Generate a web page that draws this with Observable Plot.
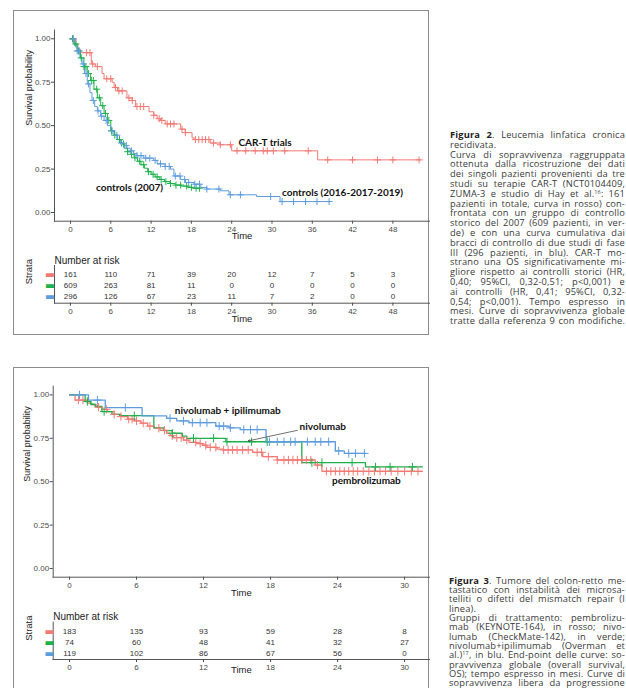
<!DOCTYPE html>
<html>
<head>
<meta charset="utf-8">
<script src="https://cdn.jsdelivr.net/npm/d3@7"></script>
<script src="https://cdn.jsdelivr.net/npm/@observablehq/plot@0.6"></script>
<style>
html, body { margin: 0; padding: 0; background: #fff; }
#page { position: relative; width: 626px; height: 688px; overflow: hidden; background: #fff; }
.frame { position: absolute; border: 1px solid #8c8c8c; box-sizing: border-box; }
.slot { position: absolute; }
.cap { position: absolute; width: 176px; font-family: "Open Sans", sans-serif; font-size: 9.3px; letter-spacing: 0.15px; color: #3a3a3a; }
.cap .ln { white-space: nowrap; }
.cap .ln span { display: inline-block; transform-origin: 0 50%; }
.cap sup { font-size: 5.5px; vertical-align: 3px; line-height: 0; }
.cap b { font-weight: 700; color: #222; }
</style>
</head>
<body>
<div id="page">
  <div class="frame" style="left:13px;top:10px;width:416px;height:325px;"></div>
  <div class="frame" style="left:13px;top:367px;width:416px;height:400px;"></div>
  <div class="slot" id="km1" style="left:14px;top:11px;"></div>
  <div class="slot" id="risk1" style="left:14px;top:248px;"></div>
  <div class="slot" id="km2" style="left:14px;top:368px;"></div>
  <div class="slot" id="risk2" style="left:14px;top:604px;"></div>
  <div class="cap" id="cap1" style="left:450px;top:130.1px;line-height:9.8px;"></div>
  <div class="cap" id="cap2" style="left:449px;top:575.9px;line-height:9.3px;"></div>
</div>
<script>
// ---------- shared ----------
const seriesColors = ["#F27A74", "#1DB14B", "#5D9CDE"];
const yTicks = [0, 0.25, 0.5, 0.75, 1];

// ---------- Figure 2 (CLL, CAR-T) ----------
const fig1Series = ["CAR-T trials", "controls (2007)", "controls (2016-2017-2019)"];
const fig1XTicks = [0, 6, 12, 18, 24, 30, 36, 42, 48];
const carTSteps = [[0,1],[0.8,0.97],[1.1,0.94],[1.5,0.92],[3.1,0.855],[3.7,0.84],[4.7,0.80],[5.0,0.77],[6.2,0.75],[6.5,0.72],[7.0,0.70],[8.4,0.66],[9.2,0.645],[9.7,0.61],[11.7,0.58],[12.4,0.56],[12.9,0.54],[13.4,0.53],[14.1,0.51],[16.4,0.48],[17.1,0.46],[18.1,0.43],[18.4,0.42],[20.8,0.40],[22.3,0.39],[24.0,0.355],[36.8,0.303],[52.2,0.303]];
const ctrl2007Steps = [[0,1],[0.5,0.97],[1.0,0.93],[1.5,0.89],[2.0,0.84],[2.5,0.80],[3.0,0.76],[3.5,0.71],[4.0,0.66],[4.5,0.615],[5.0,0.57],[5.5,0.53],[6.0,0.47],[6.5,0.445],[7.0,0.42],[7.5,0.395],[8.0,0.37],[8.5,0.35],[9.0,0.335],[9.5,0.315],[10.0,0.295],[10.5,0.275],[11.0,0.255],[11.5,0.235],[12.0,0.22],[12.6,0.205],[13.3,0.19],[14.0,0.178],[14.8,0.167],[15.6,0.158],[16.5,0.152],[17.4,0.145],[18.2,0.14],[19.3,0.138]];
const ctrl2016Steps = [[0,1],[0.6,0.96],[1.0,0.93],[1.4,0.89],[1.7,0.855],[2.1,0.80],[2.5,0.74],[2.9,0.69],[3.2,0.645],[3.6,0.61],[4.0,0.585],[4.5,0.555],[5.0,0.53],[5.5,0.50],[6.0,0.47],[6.5,0.445],[7.0,0.42],[7.5,0.40],[7.9,0.385],[8.4,0.37],[8.9,0.355],[9.4,0.34],[9.9,0.327],[10.9,0.313],[12.4,0.30],[12.9,0.28],[14.1,0.265],[14.9,0.25],[15.4,0.21],[16.4,0.19],[17.1,0.173],[18.4,0.163],[19.4,0.144],[20.3,0.135],[22.3,0.125],[23.6,0.102],[27.7,0.092],[31.2,0.063],[38.6,0.063]];
const carTCensor = [0.4,2.4,2.9,3.3,4.0,5.4,6.0,6.7,7.2,7.7,8.7,9.2,9.9,10.4,10.9,12.4,13.2,13.6,14.4,14.9,15.4,16.6,17.1,18.6,19.1,19.6,20.1,20.6,21.3,22.3,23.8,24.8,26.1,27.5,28.7,29.3,30.2,31.9,35.4,38.3,42.0,45.7,48.0,51.9];
const ctrl2007Censor = [0.3,0.8,1.2,1.6,2.0,2.3,2.7,3.1,3.4,3.9,4.3,4.8,5.2,5.7,6.1,6.6,7.3,7.9,8.5,9.1,9.6,10.3,10.9,11.6,12.3,12.9,13.5,14.2,14.9,15.7,16.4,17.3,18.0,18.7,19.2];
const ctrl2016Censor = [0.4,1.0,1.3,1.9,2.3,2.7,3.4,4.1,4.6,5.3,6.2,6.9,7.6,8.3,9.1,9.9,10.5,11.2,11.8,12.6,13.4,14.1,14.7,15.6,16.3,17.0,17.6,18.5,19.2,20.3,22.1,23.8,25.3,29.8,31.5,33.2,35.0,36.7,38.5];
const fig1Labels = [
  {label: "CAR-T trials", t: 25.0, s: 0.40},
  {label: "controls (2007)", t: 3.8, s: 0.142},
  {label: "controls (2016-2017-2019)", t: 31.5, s: 0.112}
];
const risk1Times = [0, 6, 12, 18, 24, 30, 36, 42, 48];
const risk1CarT = [161, 110, 71, 39, 20, 12, 7, 5, 3];
const risk1Ctrl2007 = [609, 263, 81, 11, 0, 0, 0, 0, 0];
const risk1Ctrl2016 = [296, 126, 67, 23, 11, 7, 2, 0, 0];

// ---------- Figure 3 (CRC MSI) ----------
const fig2Series = ["pembrolizumab", "nivolumab", "nivolumab + ipilimumab"];
const fig2XTicks = [0, 6, 12, 18, 24, 30];
const pembroSteps = [[0,1],[0.5,0.97],[1.6,0.952],[2.0,0.942],[2.5,0.929],[2.9,0.917],[3.4,0.904],[4.0,0.888],[4.6,0.875],[5.2,0.86],[5.8,0.85],[6.4,0.837],[7.0,0.82],[7.6,0.808],[8.1,0.796],[8.7,0.779],[9.0,0.765],[9.3,0.754],[10.2,0.74],[10.7,0.727],[11.4,0.72],[11.9,0.71],[12.3,0.698],[13.2,0.688],[13.7,0.683],[16.4,0.669],[17.3,0.644],[18.6,0.625],[22.0,0.596],[22.6,0.56],[31.6,0.56]];
const nivoSteps = [[0,1],[1.4,0.962],[1.9,0.946],[2.3,0.933],[2.9,0.904],[3.8,0.888],[4.5,0.88],[7.55,0.81],[8.45,0.794],[9.2,0.779],[10.1,0.763],[10.5,0.75],[14.0,0.73],[20.8,0.61],[26.5,0.585],[31.6,0.585]];
const nivoIpiSteps = [[0,1],[1.7,0.97],[3.2,0.927],[6.5,0.879],[8.7,0.865],[9.6,0.85],[10.7,0.84],[13.1,0.82],[14.3,0.81],[15.3,0.80],[17.6,0.73],[23.8,0.677],[24.6,0.663],[26.5,0.663]];
const pembroCensor = [0.8,1.2,2.6,3.3,4.0,4.6,5.3,5.6,6.0,6.6,7.2,8.0,8.5,9.2,9.6,10.0,10.5,11.3,11.7,12.2,12.6,13.1,13.8,14.2,14.6,15.0,15.5,16.0,16.8,17.2,17.8,18.6,19.2,19.6,20.0,20.4,20.8,21.2,21.6,22.2,23.0,23.4,23.8,24.2,24.6,25.0,25.4,25.8,26.3,26.8,27.3,27.8,28.3,28.8,29.4,30.0,30.6,31.2];
const nivoCensor = [1.6,3.1,5.8,9.2,11.1,12.9,14.1,16.3,17.7,21.7,22.6,25.3,27.4,28.7,30.7];
const nivoIpiCensor = [0.9,2.5,5.0,9.0,10.2,11.0,11.7,12.3,13.4,13.8,14.4,15.6,16.2,16.8,17.9,18.6,19.2,19.8,20.2,21.3,22.0,22.5,23.2,24.1,25.0,25.6,26.4];
const fig2Labels = [
  {label: "nivolumab + ipilimumab", t: 9.43, s: 0.908},
  {label: "nivolumab", t: 20.6, s: 0.815},
  {label: "pembrolizumab", t: 23.5, s: 0.504}
];
const fig2Arrows = [{t1: 20.4, s1: 0.796, t2: 16.0, s2: 0.735}];
const risk2Times = [0, 6, 12, 18, 24, 30];
const risk2Pembro = [183, 135, 93, 59, 28, 8];
const risk2Nivo = [74, 60, 48, 41, 32, 27];
const risk2NivoIpi = [119, 102, 86, 67, 56, 0];

// ---------- helpers ----------
const stepRows = (series, steps) => steps.map(([t, s]) => ({series, t, s}));
function survAt(steps, t) { let s = steps[0][1]; for (const [tt, ss] of steps) if (tt <= t) s = ss; return s; }
const censorRows = (series, steps, times) => times.map(t => ({series, t, s: survAt(steps, t)}));
const riskRows = (series, times, counts) => times.map((t, i) => ({series, t, n: counts[i]}));

const baseFont = "'Liberation Sans', Arial, sans-serif";

function kmPlot(o) {
  return Plot.plot({
    width: o.width, height: o.height,
    marginLeft: o.mL, marginRight: 0, marginTop: o.mT, marginBottom: o.mB,
    style: {background: "transparent", fontFamily: baseFont, overflow: "visible"},
    x: {domain: o.xDomain},
    y: {domain: [-0.05, 1.05]},
    color: {domain: o.names, range: seriesColors},
    marks: [
      Plot.line(o.lines, {x: "t", y: "s", z: "series", stroke: "series", curve: "step-after", strokeWidth: o.lw}),
      Plot.dot(o.censors, {x: "t", y: "s", stroke: "series", symbol: "plus", r: o.r, strokeWidth: 1}),
      Plot.axisX(o.xTicks, {tickSize: 3, tickPadding: 2, fontSize: 8, color: "#4a4a4a", label: null}),
      Plot.axisY(yTicks, {tickSize: 3, tickPadding: 1, fontSize: 8, color: "#4a4a4a", label: null, tickFormat: d3.format(".2f")}),
      Plot.frame({anchor: "left", stroke: "#555"}),
      Plot.frame({anchor: "bottom", stroke: "#555"}),
      Plot.text(["Time"], {frameAnchor: "bottom", dy: o.timeDy, fontSize: 9.5, fill: "#222"}),
      Plot.text(["Survival probability"], {frameAnchor: "left", rotate: -90, dx: o.yLabDx, fontSize: 9, fill: "#222"}),
      Plot.text(o.labels, {x: "t", y: "s", text: "label", textAnchor: "start", fontWeight: "bold", fontSize: 10, fontFamily: "Lato, sans-serif", fill: "#111"}),
      o.arrows ? Plot.arrow(o.arrows, {x1: "t1", y1: "s1", x2: "t2", y2: "s2", stroke: "#333", strokeWidth: 0.7, headLength: 4}) : null
    ]
  });
}

function riskPlot(o) {
  return Plot.plot({
    width: o.width, height: o.height,
    marginLeft: o.mL, marginRight: 0, marginTop: o.mT, marginBottom: o.mB,
    style: {background: "transparent", fontFamily: baseFont, overflow: "visible"},
    x: {domain: o.xDomain},
    y: {type: "point", domain: o.names, padding: 0.6, align: 0.6, axis: null},
    color: {domain: o.names, range: seriesColors},
    marks: [
      Plot.frame({anchor: "left", stroke: "#555"}),
      Plot.frame({anchor: "bottom", stroke: "#555"}),
      Plot.axisX(o.xTicks, {tickSize: 3, tickPadding: 2, fontSize: 8, color: "#4a4a4a", label: null}),
      Plot.text(o.rows, {x: "t", y: "series", text: "n", fontSize: 8, fill: "#333"}),
      Plot.text(o.names, {y: d => d, text: () => "▬", fill: d => d, frameAnchor: "left", dx: o.swDx, fontSize: 10.5, fontFamily: "'DejaVu Sans', sans-serif"}),
      Plot.text(["Number at risk"], {frameAnchor: "top-left", textAnchor: "start", dy: -9, fontSize: 10, fill: "#222"}),
      Plot.text(["Strata"], {frameAnchor: "left", rotate: -90, dx: o.strataDx, fontSize: 9.5, fill: "#222"}),
      Plot.text(["Time"], {frameAnchor: "bottom", dy: o.timeDy, fontSize: 9.5, fill: "#222"})
    ]
  });
}

// ---------- Figure 2 plots ----------
const fig1Domain = [-2.38, 53.45];
document.getElementById("km1").append(kmPlot({
  width: 415, height: 235, mL: 40, mT: 18.6, mB: 25.3,
  xDomain: fig1Domain, xTicks: fig1XTicks, names: fig1Series, lw: 1, r: 2.4,
  lines: [...stepRows(fig1Series[0], carTSteps), ...stepRows(fig1Series[1], ctrl2007Steps), ...stepRows(fig1Series[2], ctrl2016Steps)],
  censors: [...censorRows(fig1Series[0], carTSteps, carTCensor), ...censorRows(fig1Series[1], ctrl2007Steps, ctrl2007Censor), ...censorRows(fig1Series[2], ctrl2016Steps, ctrl2016Censor)],
  labels: fig1Labels, timeDy: 17.6, yLabDx: -25
}));
document.getElementById("risk1").append(riskPlot({
  width: 415, height: 76, mL: 40, mT: 17, mB: 21.3,
  xDomain: fig1Domain, xTicks: fig1XTicks, names: fig1Series,
  rows: [...riskRows(fig1Series[0], risk1Times, risk1CarT), ...riskRows(fig1Series[1], risk1Times, risk1Ctrl2007), ...riskRows(fig1Series[2], risk1Times, risk1Ctrl2016)],
  swDx: -9.5, strataDx: -26, timeDy: 18.3
}));

// ---------- Figure 3 plots ----------
const fig2Domain = [-1.46, 32.23];
document.getElementById("km2").append(kmPlot({
  width: 415, height: 230, mL: 38.7, mT: 17.7, mB: 21.3,
  xDomain: fig2Domain, xTicks: fig2XTicks, names: fig2Series, lw: 1.3, r: 2.8,
  lines: [...stepRows(fig2Series[0], pembroSteps), ...stepRows(fig2Series[1], nivoSteps), ...stepRows(fig2Series[2], nivoIpiSteps)],
  censors: [...censorRows(fig2Series[0], pembroSteps, pembroCensor), ...censorRows(fig2Series[1], nivoSteps, nivoCensor), ...censorRows(fig2Series[2], nivoIpiSteps, nivoIpiCensor)],
  labels: fig2Labels, arrows: fig2Arrows, timeDy: 18.3, yLabDx: -25.7
}));
document.getElementById("risk2").append(riskPlot({
  width: 415, height: 84, mL: 38.7, mT: 17.7, mB: 29,
  xDomain: fig2Domain, xTicks: fig2XTicks, names: fig2Series,
  rows: [...riskRows(fig2Series[0], risk2Times, risk2Pembro), ...riskRows(fig2Series[1], risk2Times, risk2Nivo), ...riskRows(fig2Series[2], risk2Times, risk2NivoIpi)],
  swDx: -8.7, strataDx: -24.7, timeDy: 13.7
}));

// ---------- captions (each line: [html, justify]) ----------
const caption1Lines = [
  ["<b>Figura 2</b>. Leucemia linfatica cronica", true],
  ["recidivata.", false],
  ["Curva di sopravvivenza raggruppata", true],
  ["ottenuta dalla ricostruzione dei dati", true],
  ["dei singoli pazienti provenienti da tre", true],
  ["studi su terapie CAR-T (NCT0104409,", true],
  ["ZUMA-3 e studio di Hay et al.<sup>16</sup>: 161", true],
  ["pazienti in totale, curva in rosso) con-", true],
  ["frontata con un gruppo di controllo", true],
  ["storico del 2007 (609 pazienti, in ver-", true],
  ["de) e con una curva cumulativa dai", true],
  ["bracci di controllo di due studi di fase", true],
  ["III (296 pazienti, in blu). CAR-T mo-", true],
  ["strano una OS significativamente mi-", true],
  ["gliore rispetto ai controlli storici (HR,", true],
  ["0,40; 95%CI, 0,32-0,51; p&lt;0,001) e", true],
  ["ai controlli (HR, 0,41; 95%CI, 0,32-", true],
  ["0,54; p&lt;0,001). Tempo espresso in", true],
  ["mesi. Curve di sopravvivenza globale", true],
  ["tratte dalla referenza 9 con modifiche.", true]
];
const caption2Lines = [
  ["<b>Figura 3</b>. Tumore del colon-retto me-", true],
  ["tastatico con instabilità dei microsa-", true],
  ["telliti o difetti del mismatch repair (I", true],
  ["linea).", false],
  ["Gruppi di trattamento: pembrolizu-", true],
  ["mab (KEYNOTE-164), in rosso; nivo-", true],
  ["lumab (CheckMate-142), in verde;", true],
  ["nivolumab+ipilimumab (Overman et", true],
  ["al.)<sup>17</sup>, in blu. End-point delle curve: so-", true],
  ["pravvivenza globale (overall survival,", true],
  ["OS); tempo espresso in mesi. Curve di", true],
  ["sopravvivenza libera da progressione", true],
  ["tratte dalla referenza 10 con modifiche.", true]
];
function buildCaption(id, lines, W) {
  const box = document.getElementById(id);
  box.innerHTML = lines.map(([h]) => `<div class="ln"><span>${h}</span></div>`).join("");
  const spans = box.querySelectorAll(".ln span");
  spans.forEach((sp, i) => {
    const w = sp.getBoundingClientRect().width;
    const spaces = (sp.textContent.match(/ /g) || []).length;
    if (w > W) {
      sp.style.transform = `scaleX(${W / w})`;
    } else if (lines[i][1] && spaces > 0) {
      sp.style.wordSpacing = ((W - w) / spaces) + "px";
    }
  });
}
function buildCaptions() {
  buildCaption("cap1", caption1Lines, 175);
  buildCaption("cap2", caption2Lines, 176);
}
buildCaptions();
if (document.fonts && document.fonts.ready) document.fonts.ready.then(buildCaptions);
</script>
</body>
</html>
